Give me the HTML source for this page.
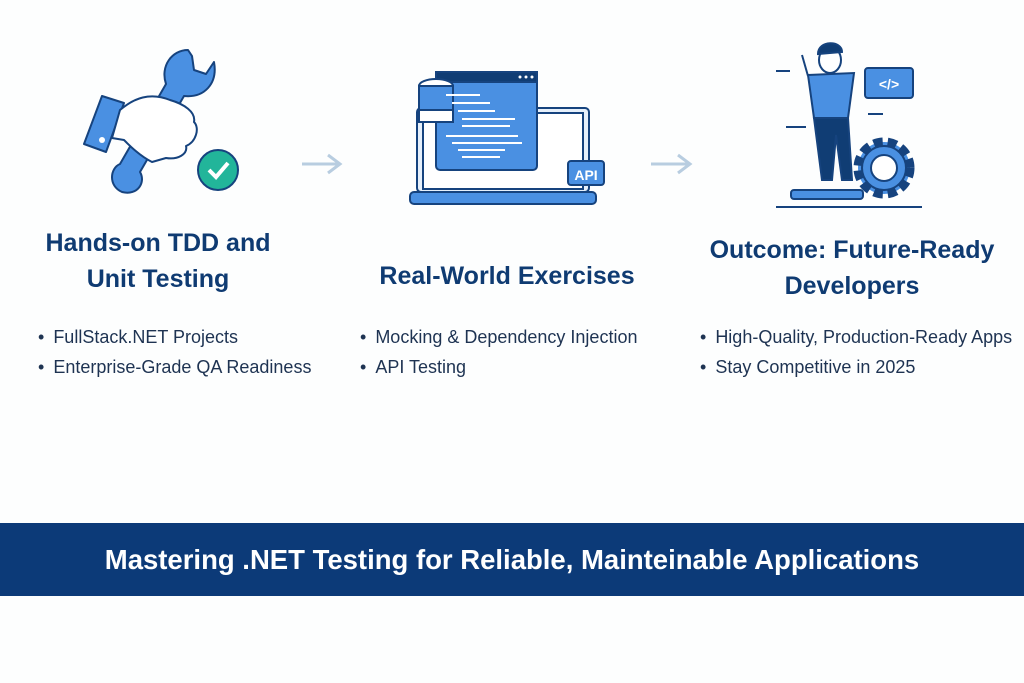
<!DOCTYPE html>
<html><head><meta charset="utf-8"><style>
body{margin:0;width:1024px;height:683px;background:#fdfefe;font-family:"Liberation Sans",sans-serif;position:relative;overflow:hidden}
.h{position:absolute;color:#0f3b72;font-weight:bold;font-size:25px;text-align:center;line-height:36px}
.b{position:absolute;color:#1e3352;font-size:18px;line-height:30px}
.b div:before{content:"•";margin-right:9px}
.banner{position:absolute;left:0;top:523px;width:1024px;height:73px;background:#0c3a78;color:#fff;font-weight:bold;font-size:27.5px;text-align:center;line-height:73px}
svg{position:absolute;left:0;top:0}
</style></head><body>
<svg width="1024" height="683">
<g stroke="#b8cde0" stroke-width="3" fill="none">
<line x1="302" y1="164" x2="340" y2="164"/><polyline points="328,155 340,164 328,173"/>
<line x1="651" y1="164" x2="690" y2="164"/><polyline points="678,155 690,164 678,173"/>
</g>
<!-- wrench & hand -->
<g stroke="#16437e" stroke-width="2" stroke-linejoin="round">
<path d="M188,50 C172,50 160,66 166,84 L120,164 C110,168 108,186 122,192 C138,196 146,182 140,172 L184,96 C204,98 218,84 214,62 L206,74 L194,70 L192,56 Z" fill="#4a90e2"/>
<path d="M102,96 L124,103 L106,152 L84,144 Z" fill="#4a90e2"/>
<path d="M120,110 C134,98 150,92 170,100 C184,104 196,112 194,122 C200,128 196,142 186,146 C188,154 178,160 166,158 L152,162 C140,156 130,146 124,140 L112,138 Z" fill="#fff"/>
<circle cx="218" cy="170" r="20" fill="#22b59a"/>
</g>
<polyline points="209,170 216,177 228,163" stroke="#fff" stroke-width="4" fill="none"/>
<circle cx="102" cy="140" r="3" fill="#fff"/>
<!-- laptop -->
<g stroke="#16437e" stroke-width="2">
<rect x="417" y="108" width="172" height="84" rx="4" fill="#e6f0fb"/>
<rect x="410" y="192" width="186" height="12" rx="4" fill="#4a90e2"/>
<rect x="423" y="113" width="160" height="76" fill="#fff"/>
<rect x="436" y="72" width="101" height="98" rx="4" fill="#4a90e2"/>
<rect x="436" y="72" width="101" height="10" fill="#103d74"/>
<rect x="568" y="161" width="36" height="24" rx="3" fill="#4a90e2"/>
<ellipse cx="436" cy="86" rx="17" ry="7" fill="#fff"/>
<rect x="419" y="86" width="34" height="36" fill="#4a90e2"/>
<rect x="419" y="110" width="34" height="12" fill="#fff"/>
</g>
<text x="586" y="180" fill="#fff" font-size="14" font-weight="bold" text-anchor="middle" font-family="Liberation Sans">API</text>
<g stroke="#fff" stroke-width="2">
<line x1="446" y1="95" x2="480" y2="95"/><line x1="452" y1="103" x2="490" y2="103"/><line x1="458" y1="111" x2="495" y2="111"/>
<line x1="462" y1="119" x2="515" y2="119"/><line x1="462" y1="126" x2="510" y2="126"/><line x1="446" y1="136" x2="518" y2="136"/>
<line x1="452" y1="143" x2="522" y2="143"/><line x1="458" y1="150" x2="505" y2="150"/><line x1="462" y1="157" x2="500" y2="157"/>
</g>
<g fill="#fff"><circle cx="520" cy="77" r="1.5"/><circle cx="526" cy="77" r="1.5"/><circle cx="532" cy="77" r="1.5"/></g>
<!-- person & gear -->
<g stroke="#16437e" stroke-width="2">
<circle cx="884" cy="168" r="26" fill="#4a90e2" stroke-dasharray="9 5" stroke-width="9"/>
<circle cx="884" cy="168" r="22" fill="#4a90e2"/>
<circle cx="884" cy="168" r="13" fill="#fff"/>
<rect x="791" y="190" width="72" height="9" rx="3" fill="#4a90e2"/>
<rect x="865" y="68" width="48" height="30" rx="3" fill="#4a90e2"/>
<path d="M814,118 L822,180 L832,180 L836,135 L842,180 L852,180 L848,118 Z" fill="#103d74"/>
<path d="M808,75 L854,73 L848,118 L814,118 Z" fill="#4a90e2"/>
<ellipse cx="830" cy="60" rx="11" ry="13" fill="#fff"/>
<path d="M818,54 C818,40 842,40 842,52 Z" fill="#103d74"/>
<line x1="808" y1="76" x2="802" y2="55"/>
</g>
<text x="889" y="89" fill="#fff" font-size="14" font-weight="bold" text-anchor="middle" font-family="Liberation Sans">&lt;/&gt;</text>
<g stroke="#16437e" stroke-width="2"><line x1="776" y1="207" x2="922" y2="207"/><line x1="776" y1="71" x2="790" y2="71"/><line x1="786" y1="127" x2="806" y2="127"/><line x1="868" y1="114" x2="883" y2="114"/></g>
</svg>
<div class="h" style="left:0;top:225px;width:316px">Hands-on TDD and<br>Unit Testing</div>
<div class="h" style="left:350px;top:258px;width:314px">Real-World Exercises</div>
<div class="h" style="left:690px;top:232px;width:324px">Outcome: Future-Ready<br>Developers</div>
<div class="b" style="left:38px;top:322px"><div>FullStack.NET Projects</div><div>Enterprise-Grade QA Readiness</div></div>
<div class="b" style="left:360px;top:322px"><div>Mocking &amp; Dependency Injection</div><div>API Testing</div></div>
<div class="b" style="left:700px;top:322px"><div>High-Quality, Production-Ready Apps</div><div>Stay Competitive in 2025</div></div>
<div class="banner">Mastering .NET Testing for Reliable, Mainteinable Applications</div>
</body></html>
